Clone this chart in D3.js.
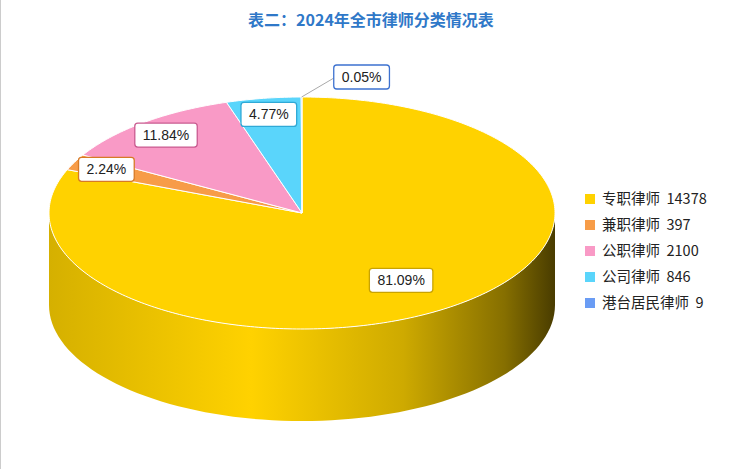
<!DOCTYPE html>
<html><head><meta charset="utf-8">
<script src="https://cdn.jsdelivr.net/npm/d3@7/dist/d3.min.js"></script>
<style>body{margin:0;background:#fff;font-family:"Noto Sans CJK SC","Noto Sans",sans-serif;}</style>
</head><body>
<div id="chart_box"></div>
<script>
var categories = ["专职律师", "兼职律师", "公职律师", "公司律师", "港台居民律师"];
var values = [14378, 397, 2100, 846, 9];
var percents = ["81.09%", "2.24%", "11.84%", "4.77%", "0.05%"];
var colors = ["#FFD200", "#F79C48", "#F99AC6", "#5AD5FB", "#6A9CF4"];
var borders = ["#C9A300", "#D77A25", "#C95B90", "#2FA9D6", "#3D72D0"];

var width = 743, height = 469;
var cx = 302, cy = 213, rx = 253, ry = 116, depth = 92;

var svg = d3.select("#chart_box").append("svg")
    .attr("width", width).attr("height", height);

svg.append("line").attr("x1", 0.5).attr("x2", 0.5).attr("y1", 0).attr("y2", height)
    .style("stroke", "#ccc");

svg.append("text").attr("x", 371).attr("y", 26).attr("text-anchor", "middle")
    .style("font-size", "16px").style("font-weight", "bold").style("fill", "#2F78C8")
    .text("表二：2024年全市律师分类情况表");

var pie = d3.pie().sort(null).value(function (d) { return d; })
    .startAngle(0).endAngle(2 * Math.PI);
var arcs = pie(values);

function pt(a, r, dy) {
    return [cx + rx * r * Math.sin(a), cy - ry * r * Math.cos(a) + (dy || 0)];
}
function arcPath(a0, a1, dy, steps) {
    var p = [];
    for (var i = 0; i <= steps; i++) {
        var a = a0 + (a1 - a0) * i / steps;
        p.push(pt(a, 1, dy));
    }
    return p;
}

// gradients for side walls
var defs = svg.append("defs");
colors.forEach(function (c, i) {
    var g = defs.append("linearGradient").attr("id", "wall" + i)
        .attr("gradientUnits", "userSpaceOnUse")
        .attr("x1", cx - rx).attr("x2", cx + rx).attr("y1", 0).attr("y2", 0);
    var base = d3.color(c);
    g.append("stop").attr("offset", 0).attr("stop-color", base.darker(0.5));
    g.append("stop").attr("offset", 0.4).attr("stop-color", c);
    g.append("stop").attr("offset", 0.7).attr("stop-color", base.darker(0.6));
    g.append("stop").attr("offset", 0.9).attr("stop-color", base.darker(1.8));
    g.append("stop").attr("offset", 1).attr("stop-color", base.darker(3.5));
});

// front side walls
arcs.forEach(function (d, i) {
    var a0 = Math.max(d.startAngle, Math.PI / 2), a1 = Math.min(d.endAngle, 3 * Math.PI / 2);
    if (a1 <= a0) return;
    var top = arcPath(a0, a1, 0, 80), bot = arcPath(a1, a0, depth, 80);
    svg.append("path").attr("d", d3.line()(top.concat(bot)) + "Z")
        .style("fill", "url(#wall" + i + ")");
});

// top faces
arcs.forEach(function (d, i) {
    var steps = Math.max(2, Math.round((d.endAngle - d.startAngle) * 60));
    var p = [[cx, cy]].concat(arcPath(d.startAngle, d.endAngle, 0, steps));
    svg.append("path").attr("d", d3.line()(p) + "Z")
        .style("fill", colors[i]).style("stroke", "#fff").style("stroke-width", 1)
        .style("stroke-linejoin", "round");
});

// labels
var total = d3.sum(values);
arcs.forEach(function (d, i) {
    var mid = (d.startAngle + d.endAngle) / 2;
    var share = values[i] / total, pos, g;
    if (share < 0.01) {
        var e = pt(mid, 1);
        pos = [e[0] + 60, e[1] - 20];
        svg.append("polyline")
            .attr("points", [e, [e[0] + 34, e[1] - 20], [e[0] + 36, e[1] - 20]].join(" "))
            .style("fill", "none").style("stroke", "#aaa");
    } else {
        pos = pt(mid, share > 0.5 ? 0.7 : 0.86);
    }
    g = svg.append("g").attr("transform", "translate(" + pos[0] + "," + pos[1] + ")");
    var t = g.append("text").attr("text-anchor", "middle").attr("dy", "0.36em")
        .style("font-size", "14px").style("fill", "#222").style("font-family", "Arial, 'Liberation Sans', sans-serif")
        .text(percents[i]);
    var w = t.node().getComputedTextLength() + 16;
    g.insert("rect", "text").attr("x", -w / 2).attr("y", -12).attr("width", w).attr("height", 24)
        .attr("rx", 3).style("fill", "#fff").style("stroke", borders[i]).style("stroke-width", 1.3);
});

// legend
var lg = svg.selectAll(".legend").data(categories).enter().append("g")
    .attr("transform", function (d, i) { return "translate(585," + (199 + i * 26) + ")"; });
lg.append("rect").attr("x", 0).attr("y", -5).attr("width", 10).attr("height", 10)
    .style("fill", function (d, i) { return colors[i]; });
lg.append("text").attr("x", 17).attr("dy", "0.35em").style("font-size", "14.5px").style("fill", "#222")
    .style("white-space", "pre")
    .text(function (d, i) { return d + "  " + values[i]; });
</script>
</body></html>
